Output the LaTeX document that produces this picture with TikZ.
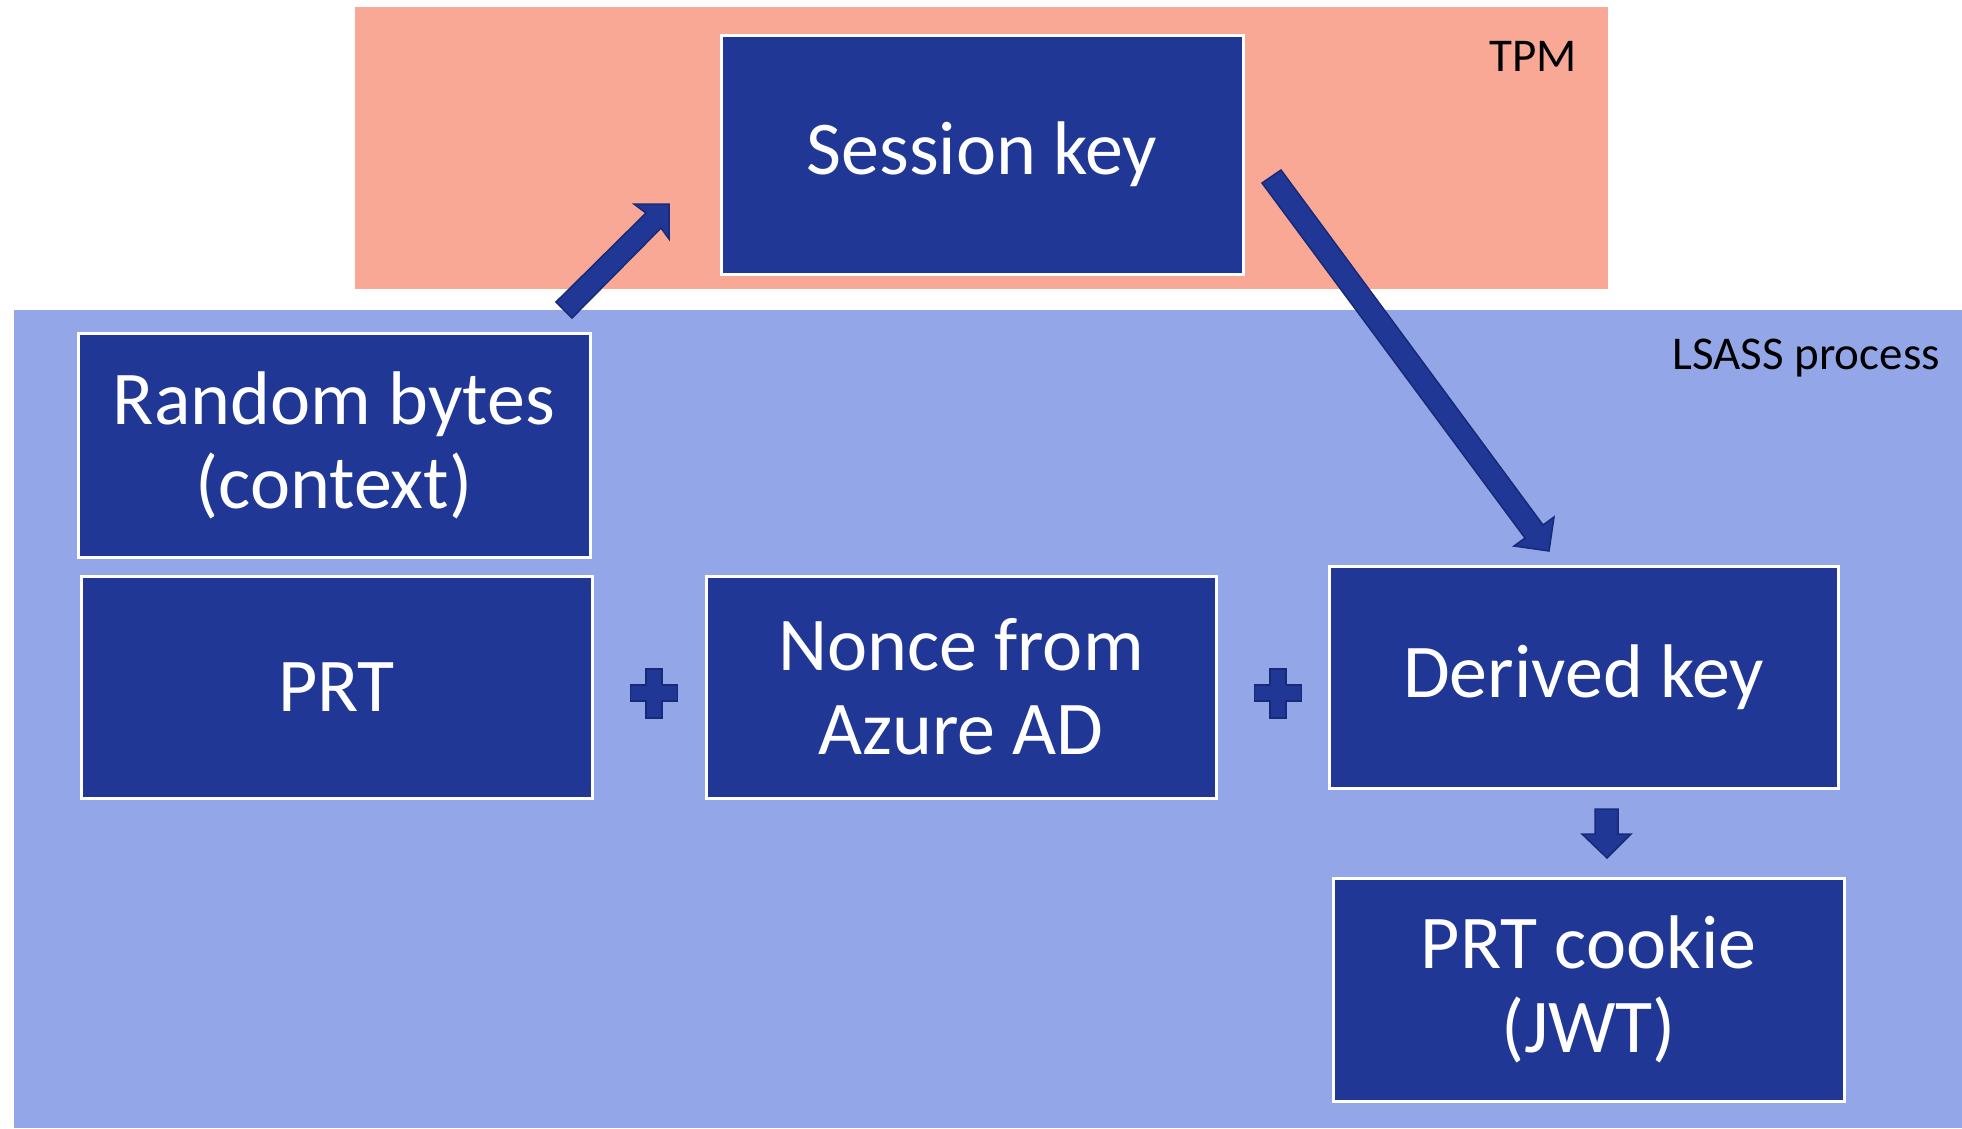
\documentclass[tikz,border=0pt]{standalone}
\usepackage{fontspec}
\setmainfont{Carlito}
\definecolor{boxblue}{RGB}{32,55,150}
\definecolor{arrowedge}{RGB}{22,42,120}
\definecolor{lsassbg}{RGB}{146,166,232}
\definecolor{tpmbg}{RGB}{249,168,150}
\tikzset{
  keybox/.style={rectangle, fill=boxblue, draw=white, line width=3pt, inner sep=0pt,
    text=white, align=center, font=\fontsize{76}{84}\selectfont},
  blockarrow/.style={fill=boxblue, draw=arrowedge, line width=1.5pt, line join=miter},
  arealabel/.style={text=black, inner sep=0pt, font=\fontsize{47}{56}\selectfont}
}
\begin{document}
\begin{tikzpicture}[x=1pt,y=-1pt]
\useasboundingbox (0,0) rectangle (1962,1128);
\fill[white] (0,0) rectangle (1962,1128);
% areas
\fill[tpmbg] (355,7) rectangle (1608,289);
\fill[lsassbg] (14,310) rectangle (1962,1128);
\node[arealabel, anchor=base east] (tpm) at (1577,71) {TPM};
\node[arealabel, anchor=base east] (lsass) at (1940,369) {LSASS process};
% boxes
\node[keybox, minimum width=522pt, minimum height=239pt] (session) at (982,154.5) {Session key};
\node[keybox, minimum width=512pt, minimum height=224pt] (random) at (334,445) {Random bytes\\(context)};
\node[keybox, minimum width=511pt, minimum height=222pt] (prt) at (336.5,687) {PRT};
\node[keybox, minimum width=510pt, minimum height=222pt] (nonce) at (961,687) {Nonce from\\Azure AD};
\node[keybox, minimum width=509pt, minimum height=222pt] (derived) at (1583.5,677) {Derived key};
\node[keybox, minimum width=511pt, minimum height=223pt] (cookie) at (1588.5,989.5) {PRT cookie\\(JWT)};
% block arrows
\draw[blockarrow] (556,302) -- (646,213) -- (634,204) -- (669,204) -- (669,239) -- (661,228) -- (572,318) -- cycle;
\draw[blockarrow] (1262,183) -- (1281,170) -- (1543,525) -- (1554,517) -- (1549,551) -- (1514,546) -- (1525,538) -- cycle;
\draw[blockarrow] (1595,809) -- (1618,809) -- (1618,834) -- (1631,834) -- (1607,858) -- (1582,834) -- (1595,834) -- cycle;
% plus signs
\foreach \cx in {654,1278}{
  \draw[blockarrow] (\cx-8,669) -- (\cx+8,669) -- (\cx+8,685) -- (\cx+23.5,685) -- (\cx+23.5,701) -- (\cx+8,701) -- (\cx+8,718) -- (\cx-8,718) -- (\cx-8,701) -- (\cx-23.5,701) -- (\cx-23.5,685) -- (\cx-8,685) -- cycle;
}
\end{tikzpicture}
\end{document}
